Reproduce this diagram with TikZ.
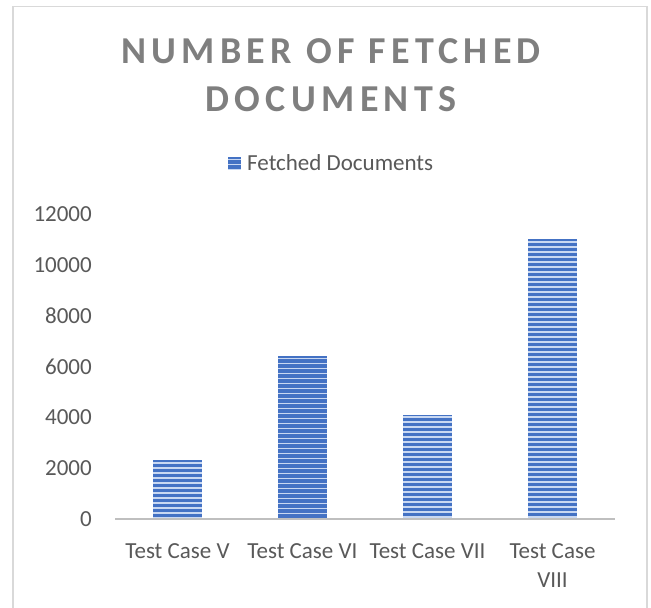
\documentclass[tikz,border=0pt]{standalone}
\usepackage{fontspec}
\setmainfont{Carlito}
\newfontfamily\titlefont[LetterSpace=14]{Carlito}
\definecolor{barblue}{HTML}{4472C4}
\definecolor{stripelight}{HTML}{C9D8F2}
\definecolor{labelgray}{HTML}{595959}
\definecolor{titlegray}{HTML}{7F7F7F}
\definecolor{axisgray}{HTML}{BFBFBF}
\definecolor{framegray}{HTML}{D9D9D9}
\tikzset{
  lbl/.style={text=labelgray, font=\fontsize{23}{29}\selectfont, inner sep=0},
  stripes/.style={path picture={
    \foreach \k in {0,5,...,300}{
      \draw[stripelight, line width=1.6pt]
        ([yshift={-(\k+2.5)*1pt}]path picture bounding box.north west) --
        ([yshift={-(\k+2.5)*1pt}]path picture bounding box.north east);
    }}},
  barbox/.style={fill=barblue, draw=none, inner sep=0, minimum width=49pt,
    anchor=south, stripes},
}
\begin{document}
\begin{tikzpicture}[x=1pt,y=-1pt]
\useasboundingbox (0,0) rectangle (651,608);
\fill[white] (0,0) rectangle (651,608);
\draw[framegray, line width=1.5pt] (13,620) -- (13,6.5) -- (647,6.5) -- (647,620);
% title
\node[text=titlegray, font=\titlefont\bfseries\fontsize{38}{48}\selectfont,
  align=center, inner sep=0, anchor=north] (title) at (331,38)
  {NUMBER OF FETCHED\\DOCUMENTS};
% legend
\node[fill=barblue, minimum width=13pt, minimum height=12pt, inner sep=0, stripes]
  (legkey) at (234.5,163) {};
\node[lbl, anchor=base west] (legtxt) at (247,170) {Fetched Documents};
% y tick labels
\foreach \v/\n in {0/t0,2000/t1,4000/t2,6000/t3,8000/t4,10000/t5,12000/t6}{
  \node[lbl, anchor=east] (\n) at (92,{519-\v*0.025417}) {\v};
}
% bars
\node[barbox, minimum height=58.5pt]  (b1) at (177.5,519) {};
\node[barbox, minimum height=162.7pt] (b2) at (302.5,519) {};
\node[barbox, minimum height=104.2pt] (b3) at (427.5,519) {};
\node[barbox, minimum height=279.6pt] (b4) at (552.5,519) {};
% axis
\coordinate (axl) at (115,519);
\coordinate (axr) at (615,519);
\draw[axisgray, line width=2.2pt] (axl) -- (axr);
% category labels
\node[lbl, anchor=north] (c1) at (177.5,543) {Test Case V};
\node[lbl, anchor=north] (c2) at (302.5,543) {Test Case VI};
\node[lbl, anchor=north] (c3) at (427.5,543) {Test Case VII};
\node[lbl, anchor=north, align=center] (c4) at (552.5,543) {Test Case\\VIII};
\end{tikzpicture}
\end{document}
